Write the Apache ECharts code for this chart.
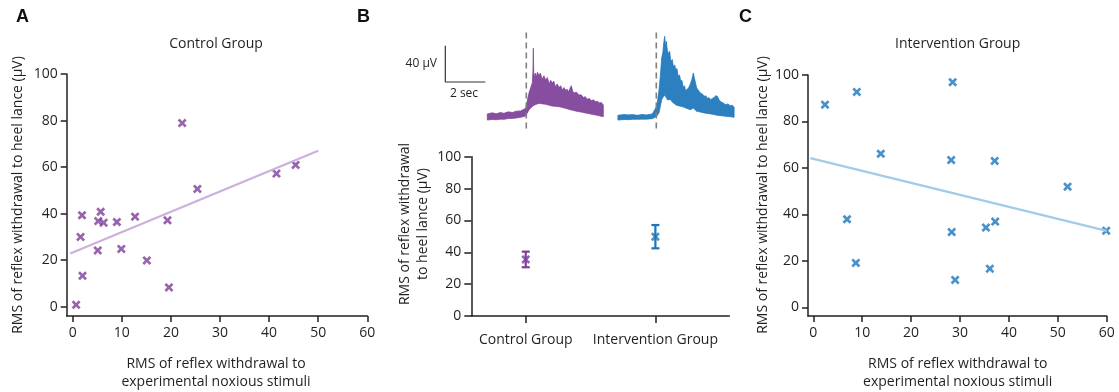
<!DOCTYPE html>
<html>
<head>
<meta charset="utf-8">
<script src="https://cdn.jsdelivr.net/npm/echarts@6/dist/echarts.min.js"></script>
<style>
  html, body { margin: 0; padding: 0; background: #fff; }
  #main { width: 1119px; height: 392px; }
</style>
</head>
<body>
<div id="main"></div>
<script>
// ---- Panel A: control group, RMS to noxious stimuli (x) vs RMS to heel lance (y), µV
const controlX = [0.7, 1.6, 1.9, 2.0, 5.1, 5.2, 5.7, 6.3, 9.0, 9.9, 12.7, 15.1, 19.3, 19.6, 22.3, 25.4, 41.5, 45.4];
const controlY = [0.8, 30.0, 39.3, 13.3, 24.2, 36.8, 40.8, 36.1, 36.4, 24.8, 38.7, 19.9, 37.1, 8.3, 78.9, 50.6, 57.2, 60.9];
const controlFit = [[-0.5, 22.9], [50, 67.0]];

// ---- Panel C: intervention group
const interventionX = [2.4, 8.9, 28.5, 13.8, 28.2, 37.1, 52.0, 6.9, 28.3, 35.3, 37.2, 8.7, 36.1, 29.0, 59.9];
const interventionY = [87.2, 92.7, 96.9, 66.1, 63.4, 63.0, 51.9, 37.9, 32.4, 34.3, 36.9, 19.1, 16.6, 11.8, 33.0];
const interventionFit = [[-0.6, 64.2], [60, 32.9]];

const scatterTicksX = [0, 10, 20, 30, 40, 50, 60];
const ticksY = [0, 20, 40, 60, 80, 100];

// ---- Panel B: group means with error bars (µV)
const groupNames = ['Control Group', 'Intervention Group'];
const groupMeans = [35.5, 49.8];
const groupErrors = [4.9, 7.3];

// ---- Panel B: example EMG traces, time (s) relative to the heel lance; upper / lower envelope in µV
const controlTraceT = [-1.95, -1.7, -1.5, -1.3, -1.12, -0.9, -0.7, -0.5, -0.28, -0.03, 0.13, 0.22, 0.30, 0.33, 0.35, 0.37, 0.40, 0.45, 0.50, 0.56,
  0.63, 0.70, 0.80, 0.88, 0.97, 1.05, 1.15, 1.22, 1.30, 1.38, 1.45, 1.55, 1.63, 1.72, 1.80, 1.88, 1.97, 2.05, 2.12, 2.20,
  2.25, 2.32, 2.40, 2.50, 2.63, 2.75, 2.85, 2.95, 3.05, 3.15, 3.25, 3.35, 3.47, 3.56, 3.65, 3.75, 3.85];
const controlTraceHi = [3.9, 5.2, 4.0, 5.5, 4.6, 6.2, 5.5, 7.0, 7.2, 10.1, 26.7, 33, 38, 50, 76.3, 50, 44, 49, 45, 50,
  46, 49, 42, 46, 41, 44, 37, 41, 38, 40, 34, 37, 33, 35, 30, 33, 30, 31, 28, 33,
  35, 29, 27, 28, 24.8, 25, 22, 23, 20, 21, 18.5, 19.5, 17.4, 18, 16, 16.5, 13.8];
const controlTraceLo = [-2.8, -2.2, -2.5, -1.8, -2.0, -1.2, -1.0, -0.5, 0.2, 1.7, 8.3, 10.5, 12, 12.5, 13, 13, 13.8, 14, 14.5, 15,
  15.6, 15.5, 15, 14.8, 14.5, 14, 13.5, 13, 12.7, 12.5, 12.3, 12, 11.9, 11.5, 11, 10.5, 10.1, 9.5, 9, 8.6,
  8.3, 8, 7.5, 7, 6.4, 6, 5.5, 5, 4.6, 4.2, 3.7, 3.2, 2.8, 2.3, 1.8, 1.3, 0.9];

const interventionTraceT = [-1.92, -1.6, -1.4, -1.2, -0.95, -0.7, -0.5, -0.2, 0.02, 0.13, 0.2, 0.27, 0.33, 0.36, 0.42, 0.46, 0.50, 0.55, 0.62, 0.67,
  0.72, 0.80, 0.85, 0.92, 0.97, 1.03, 1.1, 1.16, 1.22, 1.28, 1.35, 1.41, 1.47, 1.53, 1.6, 1.69, 1.78, 1.85, 1.9, 1.96,
  2.02, 2.1, 2.2, 2.3, 2.39, 2.47, 2.55, 2.63, 2.72, 2.8, 2.9, 2.97, 3.05, 3.15, 3.25, 3.35, 3.47, 3.58, 3.7, 3.8, 3.89];
const interventionTraceHi = [2.4, 3.3, 2.8, 3.2, 2.4, 3.4, 2.8, 3.9, 12.3, 28.9, 45, 65.6, 72, 80, 89.5, 78, 84, 74, 70, 73,
  62, 64, 56, 58, 52.7, 54, 45, 47, 39.9, 41, 33, 35, 28.9, 31, 32, 36.2, 42, 49.1, 44, 38,
  32.5, 30, 27, 26, 23.4, 24, 21, 22, 19.6, 21, 22, 24, 23.4, 19, 17, 16, 14.1, 15, 13, 13.5, 11.2];
const interventionTraceLo = [-2.8, -2.2, -2.4, -2.0, -2.0, -1.8, -1.8, -1.3, 1.3, 5, 12, 19.6, 22, 23, 25.1, 23, 22, 19.6, 19.6, 19.6,
  19.6, 17, 16, 15, 14.1, 13.5, 13, 12.6, 12.3, 12, 11.5, 11, 10.5, 10, 9.5, 8.6, 9.5, 10.5, 9.5, 8,
  6.8, 6.5, 6, 5.5, 5, 4.8, 4.5, 4.2, 3.9, 3.6, 3.2, 2.8, 2.4, 2.2, 2, 1.7, 1.3, 1, 0.8, 0.5, 0.2];

// stimulus marker extent (µV) and scale bar (corner at [s, µV], 2 s by 40 µV)
const stimulusLine = [[0, -12], [0, 94.6]];
const scaleBarCorner = [-4.05, 39.1];
const scaleBarSeconds = 2;
const scaleBarMicroVolts = 40;

const PURPLE = '#7d3f98';
const BLUE = '#1a75bb';
const INK = '#231f20';
const FONT = '"Open Sans", "Noto Sans", sans-serif';

// "x" marker outline
const CROSS = 'path://M2.1,0 L5,2.9 L7.9,0 L10,2.1 L7.1,5 L10,7.9 L7.9,10 L5,7.1 L2.1,10 L0,7.9 L2.9,5 L0,2.1 Z';

function zip(xs, ys) { return xs.map((x, i) => [x, ys[i]]); }

function axisCommon(extra) {
  return Object.assign({
    type: 'value',
    splitLine: { show: false },
    axisLine: { show: true, onZero: false, lineStyle: { color: INK, width: 1.5 } },
    axisTick: { show: true, inside: false, length: 6, lineStyle: { color: INK, width: 1.5 } },
    axisLabel: { color: INK, fontSize: 14, fontFamily: FONT }
  }, extra);
}

function scatterXAxis(gridIndex, min) {
  return axisCommon({
    gridIndex, min, max: 60,
    axisTick: { show: true, length: 6, customValues: scatterTicksX, lineStyle: { color: INK, width: 1.5 } },
    axisLabel: { color: INK, fontSize: 14, fontFamily: FONT, margin: 10, customValues: scatterTicksX }
  });
}
function scatterYAxis(gridIndex, min) {
  return axisCommon({
    gridIndex, min, max: 100,
    axisTick: { show: true, length: 6, customValues: ticksY, lineStyle: { color: INK, width: 1.5 } },
    axisLabel: { color: INK, fontSize: 14, fontFamily: FONT, margin: 9, customValues: ticksY }
  });
}
function hiddenAxis(gridIndex, min, max) {
  return { type: 'value', gridIndex, min, max, show: false };
}

// filled envelope of a trace, drawn as one polygon in data coordinates
function envelopeSeries(idx, t, hi, lo, color) {
  return {
    type: 'custom', xAxisIndex: idx, yAxisIndex: idx, silent: true,
    data: [0],
    renderItem: function (params, api) {
      const pts = [];
      for (let i = 0; i < t.length; i++) pts.push(api.coord([t[i], hi[i]]));
      for (let i = t.length - 1; i >= 0; i--) pts.push(api.coord([t[i], lo[i]]));
      return {
        type: 'polygon',
        shape: { points: pts },
        style: { fill: color, stroke: color, lineWidth: 0.8, opacity: 0.92 }
      };
    }
  };
}

const chart = echarts.init(document.getElementById('main'), null, { renderer: 'canvas' });

const option = {
  animation: false,
  backgroundColor: '#fff',
  grid: [
    { left: 66.7, top: 74, width: 300.6, height: 242 },     // A
    { left: 471.3, top: 156.7, width: 258, height: 159.3 }, // B summary
    { left: 808, top: 75, width: 298.7, height: 241 },      // C
    { left: 436.3, top: 17.7, width: 180, height: 112.5 },  // B control trace
    { left: 566.3, top: 17.7, width: 180, height: 112.5 }   // B intervention trace
  ],
  xAxis: [
    scatterXAxis(0, -1.22),
    axisCommon({
      gridIndex: 1, min: -0.42, max: 1.57,
      axisTick: { show: true, length: 7, customValues: [0, 1], lineStyle: { color: INK, width: 1.5 } },
      axisLabel: {
        color: INK, fontSize: 14, fontFamily: FONT, margin: 17, customValues: [0, 1],
        formatter: v => groupNames[Math.round(v)]
      }
    }),
    scatterXAxis(2, -1.08),
    hiddenAxis(3, -4.5, 4.5),
    hiddenAxis(4, -4.5, 4.5)
  ],
  yAxis: [
    scatterYAxis(0, -4.0),
    axisCommon({
      gridIndex: 1, min: 0, max: 100, interval: 20,
      axisTick: { show: true, length: 7, lineStyle: { color: INK, width: 1.5 } },
      axisLabel: { color: INK, fontSize: 14, fontFamily: FONT, margin: 10 }
    }),
    scatterYAxis(2, -3.75),
    hiddenAxis(3, -14, 110),
    hiddenAxis(4, -14, 110)
  ],
  series: [
    // A: fit line and points
    { type: 'line', xAxisIndex: 0, yAxisIndex: 0, data: controlFit, symbol: 'none',
      lineStyle: { color: '#cdb0dc', width: 2.2 }, silent: true },
    { type: 'scatter', xAxisIndex: 0, yAxisIndex: 0, data: zip(controlX, controlY),
      symbol: CROSS, symbolSize: 9, itemStyle: { color: PURPLE } },

    // C: fit line and points
    { type: 'line', xAxisIndex: 2, yAxisIndex: 2, data: interventionFit, symbol: 'none',
      lineStyle: { color: '#a3cbe8', width: 2.2 }, silent: true },
    { type: 'scatter', xAxisIndex: 2, yAxisIndex: 2, data: zip(interventionX, interventionY),
      symbol: CROSS, symbolSize: 9, itemStyle: { color: BLUE } },

    // B: mean +/- error
    {
      type: 'custom', xAxisIndex: 1, yAxisIndex: 1,
      data: groupMeans.map((m, i) => [i, m, groupErrors[i]]),
      renderItem: function (params, api) {
        const x = api.value(0), m = api.value(1), e = api.value(2);
        const top = api.coord([x, m + e]);
        const bot = api.coord([x, m - e]);
        const color = x === 0 ? PURPLE : BLUE;
        const half = 4;
        const st = { stroke: color, lineWidth: 2.2 };
        return {
          type: 'group',
          children: [
            { type: 'line', shape: { x1: top[0], y1: top[1], x2: bot[0], y2: bot[1] }, style: st },
            { type: 'line', shape: { x1: top[0] - half, y1: top[1], x2: top[0] + half, y2: top[1] }, style: st },
            { type: 'line', shape: { x1: bot[0] - half, y1: bot[1], x2: bot[0] + half, y2: bot[1] }, style: st }
          ]
        };
      }
    },
    { type: 'scatter', xAxisIndex: 1, yAxisIndex: 1,
      data: groupMeans.map((m, i) => ({ value: [i, m], itemStyle: { color: i === 0 ? PURPLE : BLUE } })),
      symbol: CROSS, symbolSize: 9 },

    // B: traces
    envelopeSeries(3, controlTraceT, controlTraceHi, controlTraceLo, PURPLE),
    envelopeSeries(4, interventionTraceT, interventionTraceHi, interventionTraceLo, BLUE),
    { type: 'line', xAxisIndex: 3, yAxisIndex: 3, data: stimulusLine, symbol: 'none', silent: true,
      lineStyle: { color: '#808080', width: 1.6, type: [6, 4] } },
    { type: 'line', xAxisIndex: 4, yAxisIndex: 4, data: stimulusLine, symbol: 'none', silent: true,
      lineStyle: { color: '#808080', width: 1.6, type: [6, 4] } },
    // scale bar
    { type: 'line', xAxisIndex: 3, yAxisIndex: 3, symbol: 'none', silent: true,
      data: [
        [scaleBarCorner[0], scaleBarCorner[1] + scaleBarMicroVolts],
        scaleBarCorner,
        [scaleBarCorner[0] + scaleBarSeconds, scaleBarCorner[1]]
      ],
      lineStyle: { color: '#333', width: 1.2 } }
  ],
  graphic: [
    // panel letters
    { type: 'text', left: 16, top: 8, style: { text: 'A', font: 'bold 18px "Liberation Sans", Arial, sans-serif', fill: '#111' } },
    { type: 'text', left: 357, top: 8, style: { text: 'B', font: 'bold 18px "Liberation Sans", Arial, sans-serif', fill: '#111' } },
    { type: 'text', left: 739, top: 8, style: { text: 'C', font: 'bold 18px "Liberation Sans", Arial, sans-serif', fill: '#111' } },

    // panel titles
    { type: 'text', x: 216, y: 44, style: { text: 'Control Group', align: 'center', verticalAlign: 'middle', font: '14px ' + FONT, fill: INK } },
    { type: 'text', x: 957.7, y: 44, style: { text: 'Intervention Group', align: 'center', verticalAlign: 'middle', font: '14px ' + FONT, fill: INK } },

    // axis titles
    { type: 'text', x: 18, y: 195, rotation: Math.PI / 2,
      style: { text: 'RMS of reflex withdrawal to heel lance (\u00b5V)', align: 'center', verticalAlign: 'middle', font: '14px ' + FONT, fill: INK } },
    { type: 'text', x: 763.3, y: 195, rotation: Math.PI / 2,
      style: { text: 'RMS of reflex withdrawal to heel lance (\u00b5V)', align: 'center', verticalAlign: 'middle', font: '14px ' + FONT, fill: INK } },
    { type: 'text', x: 414, y: 224, rotation: Math.PI / 2,
      style: { text: 'RMS of reflex withdrawal\nto heel lance (\u00b5V)', align: 'center', verticalAlign: 'middle', lineHeight: 18, font: '14px ' + FONT, fill: INK } },
    { type: 'text', x: 216, y: 373,
      style: { text: 'RMS of reflex withdrawal to\nexperimental noxious stimuli', align: 'center', verticalAlign: 'middle', lineHeight: 18, font: '14px ' + FONT, fill: INK } },
    { type: 'text', x: 957.7, y: 373,
      style: { text: 'RMS of reflex withdrawal to\nexperimental noxious stimuli', align: 'center', verticalAlign: 'middle', lineHeight: 18, font: '14px ' + FONT, fill: INK } },

    // scale bar labels
    { type: 'text', x: 437, y: 64, style: { text: '40 \u00b5V', align: 'right', verticalAlign: 'middle', font: '12px ' + FONT, fill: INK } },
    { type: 'text', x: 464, y: 94, style: { text: '2 sec', align: 'center', verticalAlign: 'middle', font: '12px ' + FONT, fill: INK } }
  ]
};

chart.setOption(option);
</script>
</body>
</html>
